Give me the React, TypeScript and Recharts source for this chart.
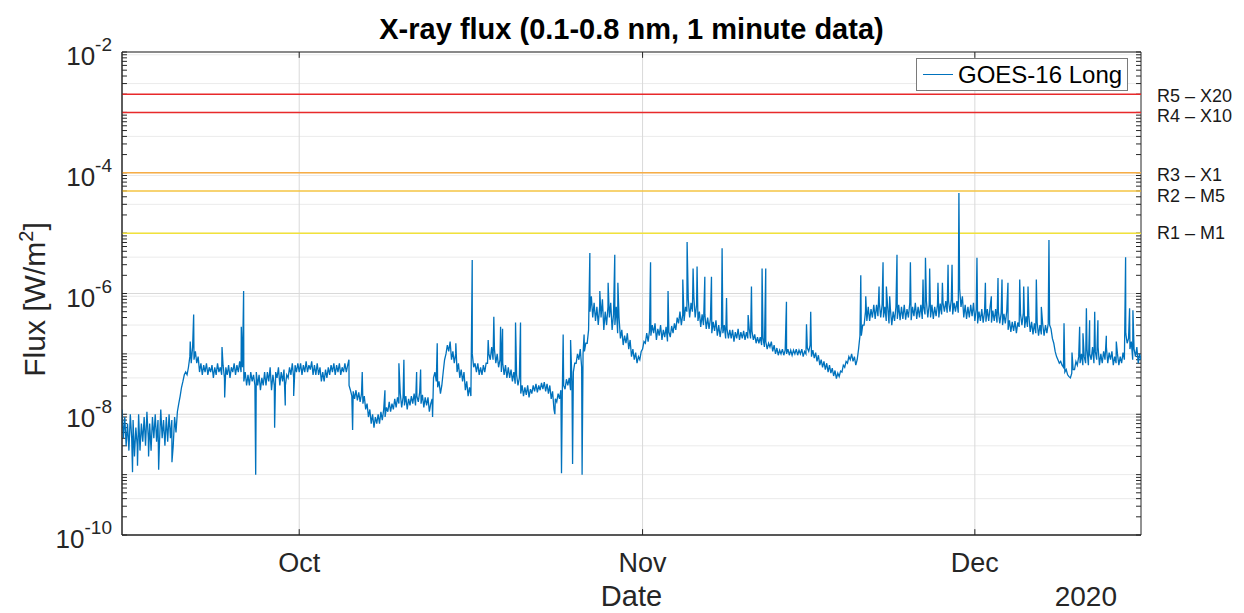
import {
  LineChart,
  Line,
  XAxis,
  YAxis,
  CartesianGrid,
  ReferenceLine,
  ReferenceArea,
  Legend,
} from 'recharts';

const FONT = '"Liberation Sans", Arial, Helvetica, sans-serif';
const AXIS_COLOR = '#262626';
const LINE_COLOR = '#0072BD';

const chartTitle = 'X-ray flux (0.1-0.8 nm, 1 minute data)';
const seriesName = 'GOES-16 Long';

// x is measured in days after 2020-09-15 00:00 UTC
const dayRange = [0, 92];
const monthTicks = [16, 47, 77];
const monthNames = ['Oct', 'Nov', 'Dec'];
const yearLabel = '2020';

const fluxRange = [1e-10, 1e-2];
const decadeTicks = [1e-10, 1e-8, 1e-6, 1e-4, 1e-2];

// 8 readings per day (every 3 h), each month starting on its first day
const SAMPLES_PER_DAY = 8;
const monthStartDay = [0, 16, 47, 77];

const sepFlux = [
  1.2e-8, 4e-9, 9e-9, 3e-9, 7e-9, 2.5e-9, 1e-8, 4e-9,
  8e-9, 2e-9, 6e-9, 3e-9, 1e-8, 2.5e-9, 7e-9, 3.5e-9,
  9e-9, 3e-9, 1.1e-8, 4e-9, 7e-9, 2.5e-9, 9e-9, 4e-9,
  1e-8, 3.5e-9, 8e-9, 3e-9, 1.2e-8, 4e-9, 8e-9, 3e-9,
  9e-9, 3.5e-9, 1e-8, 4e-9, 8e-9, 3e-9, 9e-9, 5e-9,
  1.1e-8, 1.5e-8, 2e-8, 2.8e-8, 3.5e-8, 4.5e-8, 5e-8, 4.5e-8,
  6e-8, 9e-8, 7e-8, 1.3e-7, 8e-8, 1.1e-7, 7e-8, 9e-8,
  5e-8, 7e-8, 4.5e-8, 6.5e-8, 5e-8, 7e-8, 4.5e-8, 6e-8,
  5e-8, 6.5e-8, 4e-8, 6e-8, 4.5e-8, 7e-8, 5e-8, 6e-8,
  4.5e-8, 6.5e-8, 4e-8, 6e-8, 4.5e-8, 6.5e-8, 4e-8, 6e-8,
  5e-8, 7e-8, 4.5e-8, 6.5e-8, 5e-8, 7.5e-8, 5e-8, 6e-8,
  3.5e-8, 5e-8, 3e-8, 4.5e-8, 3e-8, 5e-8, 3.5e-8, 4.5e-8,
  3e-8, 5e-8, 3e-8, 4.5e-8, 2.5e-8, 4e-8, 3e-8, 5e-8,
  3e-8, 5e-8, 3.5e-8, 6e-8, 2.5e-8, 4.5e-8, 3e-8, 5e-8,
  4e-8, 6e-8, 3e-8, 5e-8, 3.5e-8, 5.5e-8, 3e-8, 4.5e-8,
  4e-8, 6e-8, 4.5e-8, 7e-8, 4e-8, 6.5e-8, 5e-8, 7e-8,
];

const octFlux = [
  5e-8, 7e-8, 4.5e-8, 6.5e-8, 5e-8, 7.5e-8, 5e-8, 6.5e-8,
  5.5e-8, 7.5e-8, 4.5e-8, 6.5e-8, 4.5e-8, 7e-8, 4.5e-8, 6e-8,
  3.5e-8, 5e-8, 3.5e-8, 5.5e-8, 4e-8, 6e-8, 4.5e-8, 6.5e-8,
  5e-8, 7e-8, 4.5e-8, 6.5e-8, 5e-8, 7e-8, 4.5e-8, 6e-8,
  5e-8, 7e-8, 5e-8, 6.5e-8, 3e-8, 2.5e-8, 2e-8, 2.4e-8,
  1.8e-8, 2.5e-8, 1.7e-8, 2.3e-8, 1.6e-8, 2.2e-8, 1.5e-8, 2e-8,
  1.2e-8, 1.5e-8, 9e-9, 1.2e-8, 7e-9, 1e-8, 6e-9, 9e-9,
  7e-9, 1e-8, 7e-9, 1.1e-8, 8e-9, 1.2e-8, 9e-9, 1.3e-8,
  1.1e-8, 1.6e-8, 1.1e-8, 1.5e-8, 1.2e-8, 1.8e-8, 1.3e-8, 1.9e-8,
  1.5e-8, 2.2e-8, 1.3e-8, 1.9e-8, 1.4e-8, 2e-8, 1.2e-8, 1.8e-8,
  1.4e-8, 2e-8, 1.5e-8, 2.2e-8, 1.4e-8, 2e-8, 1.6e-8, 2.3e-8,
  1.5e-8, 2.1e-8, 1.3e-8, 1.9e-8, 1.4e-8, 1.9e-8, 1.1e-8, 1.5e-8,
  1.8e-8, 4e-8, 5e-8, 3.5e-8, 2.8e-8, 3.5e-8, 2.2e-8, 3e-8,
  5e-8, 8e-8, 1e-7, 1.4e-7, 1.1e-7, 1.6e-7, 8e-8, 1.1e-7,
  7e-8, 1e-7, 5e-8, 7e-8, 4e-8, 5.5e-8, 3.5e-8, 5e-8,
  2.5e-8, 3.5e-8, 2e-8, 2.8e-8, 2e-8, 1e-7, 6e-8, 7e-8,
  5e-8, 7e-8, 4.5e-8, 6e-8, 4.5e-8, 6.5e-8, 5e-8, 7e-8,
  7e-8, 1e-7, 8e-8, 1.3e-7, 8e-8, 1.2e-7, 7e-8, 1e-7,
  6e-8, 8e-8, 5e-8, 7e-8, 4.5e-8, 6.5e-8, 4e-8, 6e-8,
  4e-8, 5.5e-8, 3.5e-8, 5e-8, 3.2e-8, 4.5e-8, 3e-8, 4e-8,
  2.2e-8, 3e-8, 2e-8, 2.8e-8, 2.1e-8, 3e-8, 1.9e-8, 2.6e-8,
  2.2e-8, 3e-8, 2.4e-8, 3.2e-8, 2.3e-8, 3e-8, 2.5e-8, 3.3e-8,
  2.6e-8, 3.4e-8, 2.4e-8, 3.2e-8, 2.2e-8, 3e-8, 1.8e-8, 2.4e-8,
  1.2e-8, 1.8e-8, 1.6e-8, 2.2e-8, 1.8e-8, 2.5e-8, 2e-8, 3e-8,
  2.6e-8, 3.8e-8, 3e-8, 4e-8, 2.5e-8, 3.5e-8, 5e-8, 7e-8,
  7e-8, 1e-7, 8e-8, 1.2e-7, 6e-8, 1e-7, 1.1e-7, 1.5e-7,
  1.5e-7, 2.5e-7, 5e-7, 9e-7, 4e-7, 7e-7, 3.5e-7, 6e-7,
  3e-7, 6e-7, 4e-7, 8e-7, 2.5e-7, 5e-7, 3e-7, 6e-7,
  4e-7, 7e-7, 2.5e-7, 4.5e-7, 3e-7, 6e-7, 2.2e-7, 4e-7,
  1.8e-7, 2.5e-7, 1.4e-7, 2e-7, 1.5e-7, 2.2e-7, 1.2e-7, 1.7e-7,
  9e-8, 1.2e-7, 8e-8, 1.05e-7, 7e-8, 9e-8, 8e-8, 1.1e-7,
];

const novFlux = [
  1.2e-7, 1.6e-7, 1.5e-7, 2.2e-7, 1.6e-7, 2.4e-7, 2e-7, 3e-7,
  2.2e-7, 3.2e-7, 1.7e-7, 2.6e-7, 2e-7, 3e-7, 1.7e-7, 2.5e-7,
  1.9e-7, 2.8e-7, 1.6e-7, 2.3e-7, 1.9e-7, 2.9e-7, 2.2e-7, 3.2e-7,
  2.5e-7, 4e-7, 3.2e-7, 5e-7, 3e-7, 4.5e-7, 3.5e-7, 6e-7,
  5e-7, 8e-7, 4e-7, 7e-7, 5e-7, 9e-7, 4e-7, 6.5e-7,
  3.5e-7, 5e-7, 2.8e-7, 4.5e-7, 3e-7, 4.5e-7, 2.6e-7, 4e-7,
  2.6e-7, 3.8e-7, 2.2e-7, 3.4e-7, 2.4e-7, 3.6e-7, 2e-7, 3e-7,
  1.9e-7, 2.8e-7, 2.2e-7, 3e-7, 1.8e-7, 2.6e-7, 1.8e-7, 2.5e-7,
  1.8e-7, 2.5e-7, 1.6e-7, 2.3e-7, 1.8e-7, 2.6e-7, 1.7e-7, 2.3e-7,
  1.8e-7, 2.4e-7, 1.7e-7, 2.3e-7, 1.8e-7, 2.6e-7, 1.8e-7, 2.4e-7,
  1.7e-7, 2.1e-7, 1.5e-7, 1.9e-7, 1.5e-7, 1.9e-7, 1.4e-7, 1.8e-7,
  1.3e-7, 1.6e-7, 1.2e-7, 1.5e-7, 1.3e-7, 1.6e-7, 1.1e-7, 1.4e-7,
  1e-7, 1.25e-7, 9.5e-8, 1.15e-7, 1e-7, 1.2e-7, 9.5e-8, 1.15e-7,
  1e-7, 1.2e-7, 9.5e-8, 1.15e-7, 9.5e-8, 1.15e-7, 1e-7, 1.2e-7,
  9.5e-8, 1.15e-7, 1e-7, 1.2e-7, 9e-8, 1.1e-7, 1e-7, 1.25e-7,
  1.1e-7, 1.4e-7, 9e-8, 1.15e-7, 8.5e-8, 1.05e-7, 7.5e-8, 9.5e-8,
  6.5e-8, 8e-8, 6e-8, 7.5e-8, 5.5e-8, 7e-8, 5e-8, 6.5e-8,
  4.8e-8, 5.8e-8, 4.3e-8, 5.3e-8, 3.9e-8, 4.8e-8, 4.2e-8, 5.2e-8,
  5e-8, 6.5e-8, 6e-8, 7.5e-8, 7e-8, 9e-8, 8e-8, 1e-7,
  7.5e-8, 9e-8, 6.5e-8, 8e-8, 1.2e-7, 2e-7, 2e-7, 3e-7,
  3e-7, 5e-7, 3.5e-7, 6e-7, 3.5e-7, 5.5e-7, 4e-7, 6.5e-7,
  3.8e-7, 6.5e-7, 4.2e-7, 7e-7, 4e-7, 6.5e-7, 4e-7, 6e-7,
  3.5e-7, 6e-7, 3.2e-7, 5.5e-7, 3e-7, 5e-7, 3.5e-7, 6e-7,
  3.8e-7, 6.5e-7, 3.6e-7, 6e-7, 3.8e-7, 6.5e-7, 3.7e-7, 5.5e-7,
  4e-7, 7e-7, 3.6e-7, 6e-7, 4.2e-7, 7e-7, 3.8e-7, 6e-7,
  4e-7, 6.5e-7, 3.8e-7, 6e-7, 4.5e-7, 7.5e-7, 4e-7, 6.5e-7,
  4e-7, 6.5e-7, 3.8e-7, 6e-7, 4.2e-7, 6.5e-7, 4e-7, 6.8e-7,
  4.5e-7, 7e-7, 5e-7, 7.5e-7, 4.8e-7, 7.5e-7, 5e-7, 8e-7,
  4.5e-7, 7e-7, 5e-7, 7.5e-7, 4.8e-7, 1.2e-6, 6e-7, 9e-7,
  4e-7, 6.5e-7, 3.8e-7, 6e-7, 4e-7, 6.5e-7, 4.2e-7, 7e-7,
];

const decFlux = [
  3.5e-7, 5.5e-7, 3.2e-7, 5e-7, 3.5e-7, 5.5e-7, 3.3e-7, 5e-7,
  3.4e-7, 5.5e-7, 3.5e-7, 6e-7, 3.3e-7, 5.2e-7, 3.5e-7, 5.5e-7,
  3.3e-7, 5e-7, 3.2e-7, 4.8e-7, 3e-7, 4.6e-7, 3.2e-7, 5e-7,
  2.5e-7, 3.6e-7, 2.3e-7, 3.4e-7, 2.4e-7, 3.5e-7, 2.2e-7, 3.3e-7,
  2.8e-7, 4.5e-7, 3e-7, 4.8e-7, 2.7e-7, 4.2e-7, 2.8e-7, 4.3e-7,
  2.3e-7, 3.4e-7, 2.1e-7, 3.2e-7, 2.2e-7, 3.3e-7, 2e-7, 3e-7,
  2.1e-7, 3.1e-7, 2e-7, 3e-7, 2.2e-7, 3.2e-7, 3e-7, 2.6e-7,
  1.8e-7, 1.5e-7, 1.1e-7, 9e-8, 8e-8, 7e-8, 7.5e-8, 6.5e-8,
  6e-8, 5e-8, 5.5e-8, 4.5e-8, 4.2e-8, 4e-8, 4.8e-8, 5.5e-8,
  5.5e-8, 7.5e-8, 6.5e-8, 9e-8, 7e-8, 1e-7, 6.5e-8, 9e-8,
  7e-8, 1.2e-7, 6.5e-8, 1e-7, 8e-8, 1.3e-7, 7e-8, 1.1e-7,
  8e-8, 1.3e-7, 6.5e-8, 1e-7, 7e-8, 1.1e-7, 8e-8, 1.3e-7,
  7e-8, 1.05e-7, 8e-8, 1.1e-7, 6.5e-8, 9e-8, 7e-8, 1e-7,
  6.5e-8, 9e-8, 7e-8, 1.05e-7, 8e-8, 2.2e-7, 1.5e-7, 1.8e-7,
  1.2e-7, 1.6e-7, 8e-8, 1.2e-7, 9e-8, 1.3e-7, 7e-8, 1e-7,
  8e-8,
];

// short flares and dropouts seen between the regular readings
const flareDay = [
  0.95, 1.4, 2.4, 3.31, 4.51, 6.16, 6.47, 9.03, 9.27, 10.77, 10.98, 12.07, 13.78, 14.74, 15.5,
  20.49, 20.82, 21.69, 23.74, 25.0, 25.45, 26.6, 26.96, 28.04, 28.46, 30.14, 31.62, 33.06,
  33.57, 34.18, 34.36, 35.53, 35.98, 39.08, 39.68, 39.83, 40.5, 40.68, 41.54, 41.72, 42.24,
  43.14, 43.89, 44.49, 44.77, 47.72, 49.3, 50.63, 51.02, 51.56, 51.92, 52.62, 53.22, 54.18,
  54.58, 56.53, 56.83, 57.79, 58.12, 59.99, 61.8, 62.18, 66.7, 67.15, 68.35, 68.71, 69.01,
  69.31, 69.97, 71.18, 72.32, 72.54, 72.92, 73.67, 74.07, 74.58, 74.94, 75.56, 77.19, 77.95,
  78.49, 79.09, 79.45, 79.99, 81.05, 81.41, 81.8, 82.55, 83.0, 83.69, 85.05, 85.77, 86.46,
  86.76, 87.07, 87.36, 87.82, 88.11, 88.87, 89.77, 90.61, 90.97, 91.27,
];
const flareFlux = [
  1.1e-9, 1.4e-9, 2e-9, 1.2e-9, 1.6e-9, 1.6e-7, 4.5e-7, 1.3e-7, 1.9e-8, 2.8e-7, 1.1e-6, 1e-9, 6e-9, 1.4e-8, 2e-8,
  8e-8, 5.5e-9, 5e-8, 2.5e-8, 7e-8, 8e-8, 5e-8, 5.5e-8, 9e-9, 1.5e-7, 1.5e-7, 3.6e-6, 1.7e-7,
  4.1e-7, 2.8e-7, 2.6e-7, 3.3e-7, 3.3e-7, 1e-8, 1.05e-9, 2.1e-7, 1.7e-7, 1.5e-9, 1e-9, 2.1e-7, 4.7e-6,
  1.1e-6, 1.5e-6, 4.4e-6, 1.5e-6, 3.3e-6, 1.1e-6, 1.7e-6, 7.1e-6, 2.6e-6, 2.8e-6, 1.9e-6, 1.9e-6, 5.6e-6,
  8.4e-7, 4.4e-7, 1.3e-6, 2.6e-6, 2.6e-6, 7.3e-7, 3.1e-7, 5e-7, 2e-6, 9e-7, 1.3e-6, 3.3e-6, 1.3e-6,
  9e-7, 4.4e-6, 3.3e-6, 1.7e-6, 3.9e-6, 2.6e-6, 1.5e-6, 1.5e-6, 3e-6, 3e-6, 4.6e-5, 3.9e-6, 1.5e-6,
  9e-7, 1.8e-6, 1.7e-6, 1.5e-6, 1.7e-6, 1.3e-6, 1.3e-6, 1.7e-6, 6e-7, 7.7e-6, 3.2e-7, 1.05e-7, 2.8e-7,
  2.2e-7, 5.7e-7, 3.6e-7, 5e-7, 3.6e-7, 2e-7, 1.6e-7, 4e-6, 5.7e-7, 5.3e-7,
];

// NOAA radio blackout levels
const thresholdNames = ['R5 – X20', 'R4 – X10', 'R3 – X1', 'R2 – M5', 'R1 – M1'];
const thresholdFlux = [2e-3, 1e-3, 1e-4, 5e-5, 1e-5];
const thresholdColors = ['#e8292b', '#e8292b', '#f7ad45', '#f4c443', '#f1e23b'];
const thresholdLabelDy = [8, 10, 8, 11, 6];

const minorFlux: number[] = [];
for (let e = -10; e < -2; e++) {
  if (e % 2 !== 0) minorFlux.push(10 ** e);
  for (let m = 2; m <= 9; m++) minorFlux.push(m * 10 ** e);
}
const allFluxTicks = [...decadeTicks, ...minorFlux];

const points: { day: number; flux: number }[] = [];
[sepFlux, octFlux, novFlux, decFlux].forEach((values, m) =>
  values.forEach((flux, i) => points.push({ day: monthStartDay[m] + i / SAMPLES_PER_DAY, flux })),
);
flareDay.forEach((day, i) => points.push({ day, flux: flareFlux[i] }));
points.sort((a, b) => a.day - b.day);

const FluxTick = ({ x, y, payload }: any) => {
  const exponent = Math.round(Math.log10(payload.value));
  return (
    <text x={x} y={y + 13} textAnchor='end' fill={AXIS_COLOR} fontFamily={FONT} fontSize={26}>
      10
      <tspan dy={-14} fontSize={19}>
        {exponent}
      </tspan>
    </text>
  );
};

const MonthTick = ({ x, y, payload }: any) => (
  <text x={x} y={y + 37} textAnchor='middle' fill={AXIS_COLOR} fontFamily={FONT} fontSize={27}>
    {monthNames[monthTicks.indexOf(payload.value)]}
  </text>
);

const renderDateLabel = ({ viewBox }: any) => (
  <g fontFamily={FONT} fill={AXIS_COLOR}>
    <text x={viewBox.x + viewBox.width / 2} y={viewBox.y + 71} textAnchor='middle' fontSize={29}>
      Date
    </text>
    <text x={viewBox.x + viewBox.width - 24} y={viewBox.y + 71} textAnchor='end' fontSize={28}>
      {yearLabel}
    </text>
  </g>
);

const renderFluxLabel = ({ viewBox }: any) => {
  const cx = viewBox.x + 45;
  const cy = viewBox.y + viewBox.height / 2 + 6;
  return (
    <text
      x={cx}
      y={cy}
      transform={`rotate(-90 ${cx} ${cy})`}
      textAnchor='middle'
      fill={AXIS_COLOR}
      fontFamily={FONT}
      fontSize={30}
    >
      Flux [W/m
      <tspan dy={-12} fontSize={20}>
        2
      </tspan>
      <tspan dy={12}>]</tspan>
    </text>
  );
};

const thresholdLabel = (i: number) => ({ viewBox }: any) => (
  <text
    x={viewBox.x + viewBox.width + 16}
    y={viewBox.y + thresholdLabelDy[i]}
    fill='#1a1a1a'
    fontFamily={FONT}
    fontSize={18}
  >
    {thresholdNames[i]}
  </text>
);

const LegendBox = () => (
  <div
    style={{
      width: 212,
      height: 33,
      boxSizing: 'border-box',
      border: '1px solid #7a7a7a',
      background: '#fff',
      display: 'flex',
      alignItems: 'center',
      fontFamily: FONT,
      fontSize: 24,
      color: '#000',
    }}
  >
    <span
      style={{
        display: 'inline-block',
        width: 30,
        borderTop: `1px solid ${LINE_COLOR}`,
        margin: '0 5px 0 6px',
      }}
    />
    <span>{seriesName}</span>
  </div>
);

const tickStroke = { stroke: AXIS_COLOR, strokeWidth: 1 };

const App = () => (
  <div style={{ position: 'absolute', left: 0, top: 0, width: 1244, height: 613, background: '#fff' }}>
    <div
      style={{
        position: 'absolute',
        left: 122,
        top: 13,
        width: 1019,
        textAlign: 'center',
        fontFamily: FONT,
        fontWeight: 'bold',
        fontSize: 29,
        lineHeight: '33px',
        color: '#000',
      }}
    >
      {chartTitle}
    </div>
    <LineChart width={1244} height={613} data={points} margin={{ top: 52, right: 103, bottom: 0, left: 0 }}>
      <CartesianGrid horizontalValues={minorFlux} vertical={false} stroke='#ebebeb' />
      <CartesianGrid horizontalValues={decadeTicks} verticalValues={monthTicks} stroke='#d9d9d9' />
      <XAxis
        dataKey='day'
        type='number'
        domain={dayRange}
        allowDataOverflow
        ticks={monthTicks}
        height={78}
        tickSize={0}
        tickMargin={0}
        tickLine={false}
        tick={<MonthTick />}
        axisLine={{ stroke: AXIS_COLOR }}
        label={renderDateLabel}
      />
      <YAxis
        scale='log'
        domain={fluxRange}
        allowDataOverflow
        ticks={decadeTicks}
        width={122}
        tickSize={0}
        tickMargin={10}
        tickLine={false}
        tick={<FluxTick />}
        axisLine={{ stroke: AXIS_COLOR }}
        label={renderFluxLabel}
      />
      {allFluxTicks.map((v) => (
        <ReferenceLine key={`l${v}`} segment={[{ x: 0, y: v }, { x: 0.45, y: v }]} {...tickStroke} />
      ))}
      {allFluxTicks.map((v) => (
        <ReferenceLine key={`r${v}`} segment={[{ x: 91.55, y: v }, { x: 92, y: v }]} {...tickStroke} />
      ))}
      {monthTicks.map((d) => (
        <ReferenceLine key={`b${d}`} segment={[{ x: d, y: 1e-10 }, { x: d, y: 1.25e-10 }]} {...tickStroke} />
      ))}
      {monthTicks.map((d) => (
        <ReferenceLine key={`t${d}`} segment={[{ x: d, y: 8e-3 }, { x: d, y: 1e-2 }]} {...tickStroke} />
      ))}
      {thresholdFlux.map((flux, i) => (
        <ReferenceLine
          key={thresholdNames[i]}
          y={flux}
          stroke={thresholdColors[i]}
          strokeWidth={1.5}
          label={thresholdLabel(i)}
        />
      ))}
      <Line
        dataKey='flux'
        name={seriesName}
        type='linear'
        stroke={LINE_COLOR}
        strokeWidth={1.3}
        dot={false}
        isAnimationActive={false}
      />
      <ReferenceArea
        x1={dayRange[0]}
        x2={dayRange[1]}
        y1={fluxRange[0]}
        y2={fluxRange[1]}
        fill='none'
        stroke={AXIS_COLOR}
        strokeWidth={1}
      />
      <Legend
        layout='vertical'
        align='center'
        verticalAlign='middle'
        wrapperStyle={{ position: 'absolute', left: 916, top: 58, width: 212, height: 33 }}
        content={() => <LegendBox />}
      />
    </LineChart>
  </div>
);

export default App;
